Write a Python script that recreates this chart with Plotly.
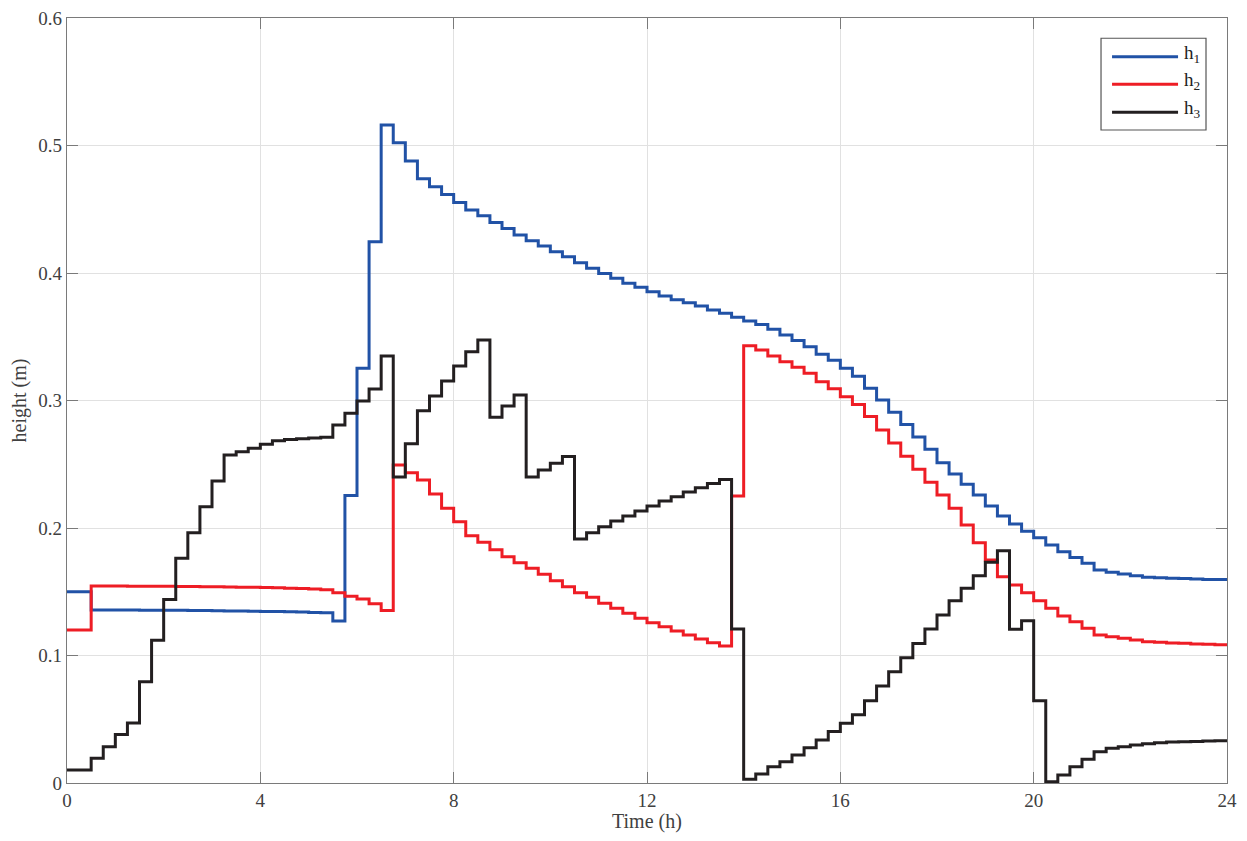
import numpy as np
import plotly.graph_objects as go

dt = 0.25
x_ticks = [0, 4, 8, 12, 16, 20, 24]
y_ticks = [0, 0.1, 0.2, 0.3, 0.4, 0.5, 0.6]
y_tick_labels = ["0", "0.1", "0.2", "0.3", "0.4", "0.5", "0.6"]

h1 = [0.150, 0.150,
      0.1357, 0.1357, 0.1356, 0.1356, 0.1355, 0.1355, 0.1354, 0.1354, 0.1353, 0.1352,
      0.1351, 0.1350, 0.1349, 0.1348, 0.1346, 0.1345, 0.1343, 0.1341, 0.1338, 0.1335,
      0.127, 0.2255, 0.3252, 0.4246, 0.516, 0.5022, 0.4878, 0.474, 0.4677, 0.4615,
      0.4553, 0.4494, 0.4449, 0.4397, 0.435, 0.4298, 0.4253, 0.4212, 0.4167, 0.4128,
      0.4081, 0.4037, 0.3997, 0.3958, 0.3919, 0.3888, 0.3853, 0.382, 0.379, 0.3767,
      0.3741, 0.371, 0.3684, 0.3652, 0.3624, 0.3597, 0.3558, 0.3514, 0.347, 0.3422,
      0.3362, 0.3315, 0.3252, 0.319, 0.3096, 0.3004, 0.2908, 0.2812, 0.2713, 0.2618,
      0.2512, 0.2424, 0.2343, 0.2259, 0.2173, 0.2094, 0.2031, 0.1975, 0.1923, 0.1867,
      0.1814, 0.1768, 0.1723, 0.1671, 0.1652, 0.1639, 0.1626, 0.1613, 0.161, 0.1605,
      0.1603, 0.16, 0.1597, 0.1597]

h2 = [0.12, 0.12,
      0.1545, 0.1545, 0.1545, 0.1544, 0.1544, 0.1543, 0.1543, 0.1542, 0.1541, 0.1540,
      0.1539, 0.1538, 0.1536, 0.1535, 0.1533, 0.1531, 0.1528, 0.1525, 0.1521, 0.1516,
      0.1493, 0.1465, 0.1443, 0.1405, 0.1352, 0.2494, 0.2434, 0.2376, 0.2267, 0.2154,
      0.205, 0.1940, 0.1889, 0.183, 0.1775, 0.1728, 0.1684, 0.1637, 0.1587, 0.154,
      0.1493, 0.1456, 0.1409, 0.137, 0.1331, 0.1292, 0.1257, 0.1226, 0.1192, 0.1161,
      0.1129, 0.11, 0.1075, 0.2251, 0.343, 0.3396, 0.335, 0.3304, 0.326, 0.3213,
      0.3148, 0.3092, 0.303, 0.2969, 0.2874, 0.2769, 0.2667, 0.2562, 0.2461, 0.2359,
      0.2259, 0.2154, 0.2024, 0.1885, 0.1750, 0.1618, 0.1553, 0.1493, 0.143, 0.137,
      0.131, 0.1265, 0.1213, 0.1161, 0.1148, 0.1135, 0.1122, 0.1108, 0.1103, 0.1098,
      0.1096, 0.1090, 0.1088, 0.1085]

h3 = [0.0102, 0.0102, 0.0194, 0.0285, 0.038, 0.047, 0.0795, 0.112, 0.144, 0.1762,
      0.1963, 0.2167, 0.2369, 0.2573, 0.2599, 0.2625, 0.2656, 0.2685, 0.2695, 0.27,
      0.2706, 0.2711, 0.2808, 0.29, 0.2996, 0.309, 0.335, 0.240, 0.266, 0.292,
      0.3035, 0.3152, 0.327, 0.3383, 0.3475, 0.2868, 0.2957, 0.3043, 0.240, 0.2455,
      0.2507, 0.256, 0.1914, 0.1963, 0.201, 0.2055, 0.2094, 0.2133, 0.2173, 0.2212,
      0.2246, 0.2282, 0.2316, 0.235, 0.238, 0.1208, 0.0029, 0.007, 0.0128, 0.0167,
      0.022, 0.0277, 0.0337, 0.0403, 0.0468, 0.0536, 0.0646, 0.076, 0.0873, 0.0983,
      0.1095, 0.1207, 0.1318, 0.143, 0.1527, 0.1626, 0.1731, 0.1822, 0.1205, 0.1273,
      0.0646, 0.001, 0.0063, 0.0128, 0.0186, 0.0246, 0.0272, 0.0285, 0.0298, 0.0308,
      0.0316, 0.0322, 0.0324, 0.0326, 0.0329, 0.0332]

series_names = ["h<sub>1</sub>", "h<sub>2</sub>", "h<sub>3</sub>"]
series_colors = ["#2152A6", "#EE1D25", "#231F20"]
x_title = "Time (h)"
y_title = "height (m)"

t = np.arange(len(h1) + 1) * dt

fig = go.Figure()
for name, vals, col in zip(series_names, [h1, h2, h3], series_colors):
    yv = list(vals) + [vals[-1]]
    fig.add_trace(go.Scatter(x=t, y=yv, mode="lines", name=name, showlegend=False,
                             line=dict(color=col, width=3, shape="hv")))

font_family = "Liberation Serif"
axis_common = dict(showline=True, linecolor="#7a7a7a", linewidth=1.2, mirror="ticks",
                   ticks="inside", ticklen=11, tickcolor="#7a7a7a", tickwidth=1.2,
                   showgrid=True, gridcolor="#e1e1e1", gridwidth=1, zeroline=False,
                   automargin=False, ticklabeloverflow="allow",
                   tickfont=dict(family=font_family, size=19, color="#404040"))

# MATLAB-style legend box (paper coordinates, top-right corner of the axes)
leg_x0, leg_x1, leg_y0, leg_y1 = 0.8914, 0.9819, 0.8536, 0.9735
line_x0, line_x1, text_x = 0.9009, 0.9578, 0.9612
row_y = [0.9494, 0.9133, 0.8767]

shapes = [dict(type="rect", xref="paper", yref="paper", x0=leg_x0, x1=leg_x1, y0=leg_y0, y1=leg_y1,
               line=dict(color="#555555", width=1.2), fillcolor="white", layer="above")]
annotations = []
for name, col, yy in zip(series_names, series_colors, row_y):
    shapes.append(dict(type="line", xref="paper", yref="paper", x0=line_x0, x1=line_x1, y0=yy, y1=yy,
                       line=dict(color=col, width=3), layer="above"))
    annotations.append(dict(xref="paper", yref="paper", x=text_x, y=yy + 0.004, text=name,
                            showarrow=False, xanchor="left", yanchor="middle",
                            font=dict(family=font_family, size=19, color="#222222")))

# x-axis title placed below the tick labels
annotations.append(dict(xref="paper", yref="paper", x=0.5, y=-0.0505, text=x_title,
                        showarrow=False, xanchor="center", yanchor="middle",
                        font=dict(family=font_family, size=20, color="#404040")))

fig.update_layout(
    width=1231, height=825,
    margin=dict(l=59, r=12, t=10, b=50),
    paper_bgcolor="white", plot_bgcolor="white",
    font=dict(family=font_family, size=19, color="#404040"),
    xaxis=dict(range=[0, 24], tickvals=x_ticks, ticktext=[str(v) for v in x_ticks],
               **axis_common),
    yaxis=dict(range=[0, 0.6], tickvals=y_ticks, ticktext=y_tick_labels,
               title=dict(text=y_title, font=dict(family=font_family, size=20, color="#404040"),
                          standoff=8),
               **axis_common),
    shapes=shapes,
    annotations=annotations,
    showlegend=False,
)

fig.write_html("out.html")
